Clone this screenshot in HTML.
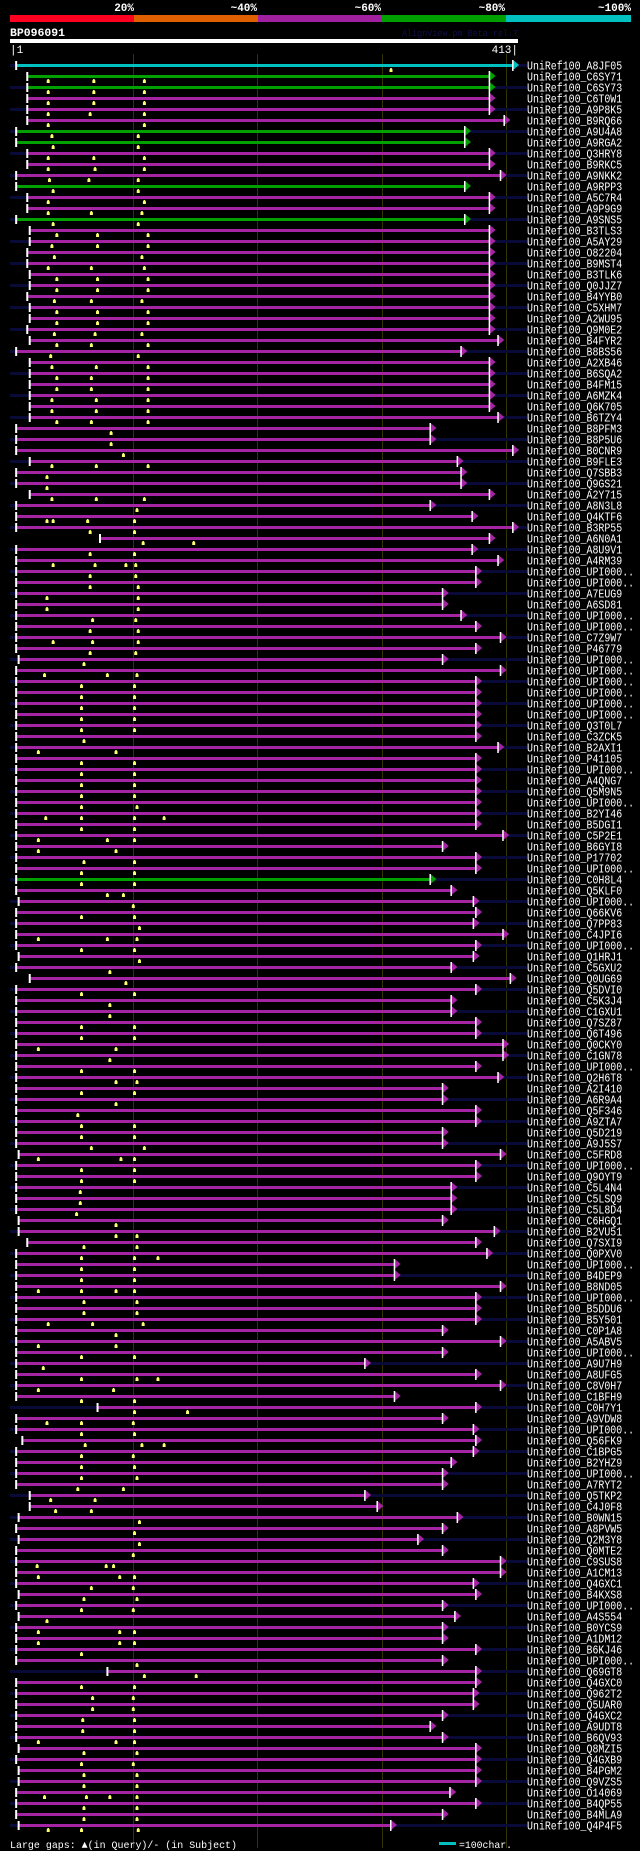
<!DOCTYPE html>
<html><head><meta charset="utf-8">
<style>
html,body{margin:0;padding:0;background:#000;}
body{width:640px;height:1851px;overflow:hidden;}
svg{display:block;}
text{font-family:"Liberation Mono","DejaVu Sans Mono",monospace;fill:#fff;}
</style></head>
<body>
<svg id="chart" width="640" height="1851" viewBox="0 0 640 1851" xmlns="http://www.w3.org/2000/svg">
<g>
<rect x="10" y="15" width="124" height="7" fill="#ff0020"/>
<rect x="134" y="15" width="124" height="7" fill="#e06000"/>
<rect x="258" y="15" width="124" height="7" fill="#a020a0"/>
<rect x="382" y="15" width="124" height="7" fill="#00a000"/>
<rect x="506" y="15" width="125" height="7" fill="#00c0c0"/>
<text x="134" y="11" font-size="11" font-weight="bold" text-anchor="end">20%</text>
<text x="257" y="11" font-size="11" font-weight="bold" text-anchor="end">~40%</text>
<text x="381" y="11" font-size="11" font-weight="bold" text-anchor="end">~60%</text>
<text x="505" y="11" font-size="11" font-weight="bold" text-anchor="end">~80%</text>
<text x="631" y="11" font-size="11" font-weight="bold" text-anchor="end">~100%</text>
</g>
<text x="10" y="36" font-size="11" font-weight="bold" textLength="55" lengthAdjust="spacingAndGlyphs">BP096091</text>
<text x="402" y="36" font-size="9" fill="#10104a" style="fill:#10104a" textLength="116" lengthAdjust="spacingAndGlyphs">AlignView.pm Beta rel.7</text>
<rect x="10" y="39" width="508" height="4" fill="#fff"/>
<text x="10" y="53" font-size="11">|1</text>
<text x="518" y="53" font-size="11" text-anchor="end">413|</text>
<g id="grid"></g>
<g id="rows"></g>
<g>
<text x="10" y="1848" font-size="10.5" textLength="227" lengthAdjust="spacingAndGlyphs">Large gaps: ▲(in Query)/- (in Subject)</text>
<rect x="439" y="1842" width="17" height="3" fill="#00c0c0"/>
<text x="459" y="1848" font-size="10.5" textLength="53" lengthAdjust="spacingAndGlyphs">=100char.</text>
</g>
</svg>
<script>
const names = ["A8JF05","C6SY71","C6SY73","C6T0W1","A9P8K5","B9RQ66","A9U4A8","A9RGA2","Q3HRY8","B9RKC5","A9NKK2","A9RPP3","A5C7R4","A9P9G9","A9SNS5","B3TLS3","A5AY29","O82204","B9MST4","B3TLK6","Q0JJZ7","B4YYB0","C5XHM7",
"A2WU95","Q9M0E2","B4FYR2","B8BS56","A2XB46","B6SQA2","B4FM15","A6MZK4","Q6K705","B6TZY4","B8PFM3","B8P5U6","B0CNR9","B9FLE3","Q7SBB3","Q9GS21","A2Y715","A8N3L8","Q4KTF6","B3RP55","A6N0A1","A8U9V1","A4RM39",
"U","U","A7EUG9","A6SD81","U","U","C7Z9W7","P46779","U","U","U","U","U","U","Q3T0L7","C3ZCK5","B2AXI1","P41105","U","A4QNG7","Q5M9N5","U","B2YI46","B5DGI1",
"C5P2E1","B6GYI8","P17702","U","C0H8L4","Q5KLF0","U","Q66KV6","Q7PP83","C4JPI6","U","Q1HRJ1","C5GXU2","Q0UG69","Q5DVI0","C5K3J4","C1GXU1","Q7SZ87","Q6T496","Q0CKY0","C1GN78","U","Q2H6T8",
"A2I410","A6R9A4","Q5F346","A9ZTA7","Q5D219","A9J5S7","C5FRD8","U","Q9OYT9","C5L4N4","C5LSQ9","C5L8D4","C6HGQ1","B2VU51","Q7SXI9","Q0PXV0","U","B4DEP9","B8ND05","U","B5DDU6","B5Y501","C0P1A8",
"A5ABV5","U","A9U7H9","A8UFG5","C8V0H7","C1BFH9","C0H7Y1","A9VDW8","U","Q56FK9","C1BPG5","B2YHZ9","U","A7RYT2","Q5TKP2","C4J0F8","B0WN15","A8PVW5","Q2M3Y8","Q0MTE2","C9SUS8","A1CM13","Q4GXC1",
"B4KXS8","U","A4S554","B0YCS9","A1DM12","B6KJ46","U","Q69GT8","Q4GXC0","Q962T2","Q5UAR0","Q4GXC2","A9UDT8","B6QV93","Q8MZI5","Q4GXB9","B4PGM2","Q9VZS5","O14069","B4QP55","B4MLA9","Q4P4F5"];

const ends = [409,390,390,390,390,402,370,370,390,390,399,370,390,390,370,390,390,390,390,390,390,390,390,
390,390,397,367,390,390,390,390,390,397,342,342,409,364,367,367,390,342,376,409,390,376,397,
379,379,352,352,367,379,399,379,352,399,379,379,379,379,379,379,397,379,379,379,379,379,379,379,
401,352,379,379,342,359,377,379,377,401,379,377,359,407,379,359,359,379,379,401,401,379,397,
352,352,379,379,352,352,399,379,379,359,359,359,352,394,379,388,313,313,399,379,379,379,352,
399,352,289,379,399,313,379,352,377,379,377,359,352,352,289,299,364,352,332,352,399,399,377,
379,352,362,352,352,379,352,379,379,377,377,352,342,352,379,379,379,379,358,379,352,310];

const starts = [6,15,15,15,15,15,6,6,15,15,6,6,15,15,6,17,17,15,15,17,17,15,17,
17,15,17,6,17,17,17,17,17,17,6,6,6,17,6,6,17,6,6,6,74,6,6,
6,6,6,6,6,6,6,6,8,6,6,6,6,6,6,6,6,6,6,6,6,6,6,6,
6,6,6,6,6,6,8,6,6,6,6,8,6,17,6,6,6,6,6,6,6,6,6,
6,6,6,6,6,6,8,6,6,6,6,6,8,8,15,6,6,6,6,6,6,6,6,
6,6,6,6,6,6,72,6,6,11,6,6,6,6,17,17,8,6,8,6,6,6,6,
8,6,8,6,6,6,6,80,6,6,6,6,6,6,8,6,8,8,6,6,6,8];

const identity = ["c","g","g","m","m","m","g","g","m","m","m","g","m","m","g"];
const greenRows = [74];

const gaps = [[310],[32,69,110],[32,69,110],[32,69,110],[32,66,110],[32,110],[35,105],[36,105],[32,69,110],[32,70,110],[33,65,105],[36,105],[32,110],[32,67,108],[36,105],
[39,72,113],[35,72,113],[37,108],[32,67,110],[39,72,113],[39,72,113],[37,67,108],[39,72,113],[39,72,113],[37,70,108],[39,67,113],[34,105],[35,71,113],[39,67,113],[39,67,113],[35,71,113],[35,71,113],[39,67,113],
[83],[83],[93],[35,71,113],[31],[31],[35,71,110],[104],[31,36,64,102],[66,102],[109,150],[66,102],[36,70,95,103],[66,103],[66,105],[31,105],[31,105],[68,103],[66,105],[36,68,105],[66,103],
[61],[29,80,104],[59,102],[59,102],[59,102],[59,102],[59,102],[61],[24,87],[59,102],[59,102],[59,102],[59,102],[59,104],[30,59,102,126],[59,102],[24,80,102],[24,87],[61,102],[59,102],
[59,102],[80,93],[101],[59,102],[106],[24,80,104],[59,102],[106],[82],[95],[59,102],[82],[82],[59,102],[59,102],[24,87],[82],[59,102],[87,104],[59,102],
[87],[56],[59,102],[59,102],[67,110],[24,91,102],[59,102],[59,102],[58],[58],[55],[87],[87,104],[61,104],[59,102,121],[59,102],[59,102],[24,59,87,102],[61,104],[61,104],
[32,68,109],[87],[24,87],[59,102],[28],[59,104,121],[24,85],[59,102],[102,145],[31,59,101],[59,102],[62,108,126],[59,101],[59,102],[59,104],[56,93],[34,70],[38,67],[106],[102],
[106],[101],[23,79,85],[24,90,102],[67,101],[61,104],[59,101],[31],[24,90,102],[24,90,102],[59],[104],[110,152],[59,102],[68,101],[68,101],[60,102],[60,102],[24,87,102],[61,104],
[59,101],[61,104],[61,104],[29,63,82,104],[61,104],[61,104],[32,59,105]];

const gridTicks = [20,40,60,80];
const qMax = 413;

const svgNS = "http://www.w3.org/2000/svg";
function xs(q){ return 10 + (q-1)*508/(qMax-1); }
function pctX(p){ return 10 + p/100*(631-10); }
function rowY(i){ return 65 + 11*i; }
function mk(tag, attrs, parent){ const e=document.createElementNS(svgNS,tag); for(const k in attrs) e.setAttribute(k,attrs[k]); parent.appendChild(e); return e; }
const colorMap = {c:"#00c0c0", g:"#00a000", m:"#a424a4"};

const grid = document.getElementById('grid');
gridTicks.forEach(p=>{
  const gx = Math.round(pctX(p)) - 1;
  const l = mk('line',{x1:gx+0.5,x2:gx+0.5,y1:54,y2:1848,stroke:"#333300","stroke-width":1},grid);
  
  
});

const rowsG = document.getElementById('rows');
names.forEach((nm,i)=>{
  const y = rowY(i);
  const g = mk('g',{},rowsG);
  
  
  const x0 = xs(starts[i]), x1 = xs(ends[i]);
  if(i%2===0){
    const bg = mk('rect',{x:10,y:y-1,width:517,height:3,fill:"#0a0a38"},g);
    
    
  }
  let col = colorMap[identity[i]||"m"];
  if(greenRows.includes(i)) col = colorMap.g;
  const bar = mk('rect',{x:x0,y:y-1,width:Math.max(0,x1-x0),height:3,fill:col},g);
  
  
  const tk = mk('rect',{x:x0-1,y:y-4,width:2,height:9,fill:"#fff"},g);
  
  
  const ar = mk('polygon',{points:`${x1},${y-5} ${x1+6},${y} ${x1},${y+5}`,fill:col},g);
  
  
  const al = mk('rect',{x:x1-1,y:y-5,width:1.5,height:11,fill:"#fff"},g);
  
  
  (gaps[i]||[]).forEach(q=>{
    const gx = xs(q);
    const m = mk('polygon',{points:`${gx-1.5},${y+7} ${gx-1.5},${y+4.5} ${gx-0.5},${y+3} ${gx+0.5},${y+3} ${gx+1.5},${y+4.5} ${gx+1.5},${y+7}`,fill:"#ffff70"},g);
    
    
  });
  const label = nm==="U" ? "UniRef100_UPI000.." : "UniRef100_"+nm;
  const t = mk('text',{x:527,y:y+4.5,"font-size":12,textLength:(label.length*5.95).toFixed(1),lengthAdjust:"spacingAndGlyphs"},g);
  t.textContent = label;
  
  
});
</script>
</body></html>
